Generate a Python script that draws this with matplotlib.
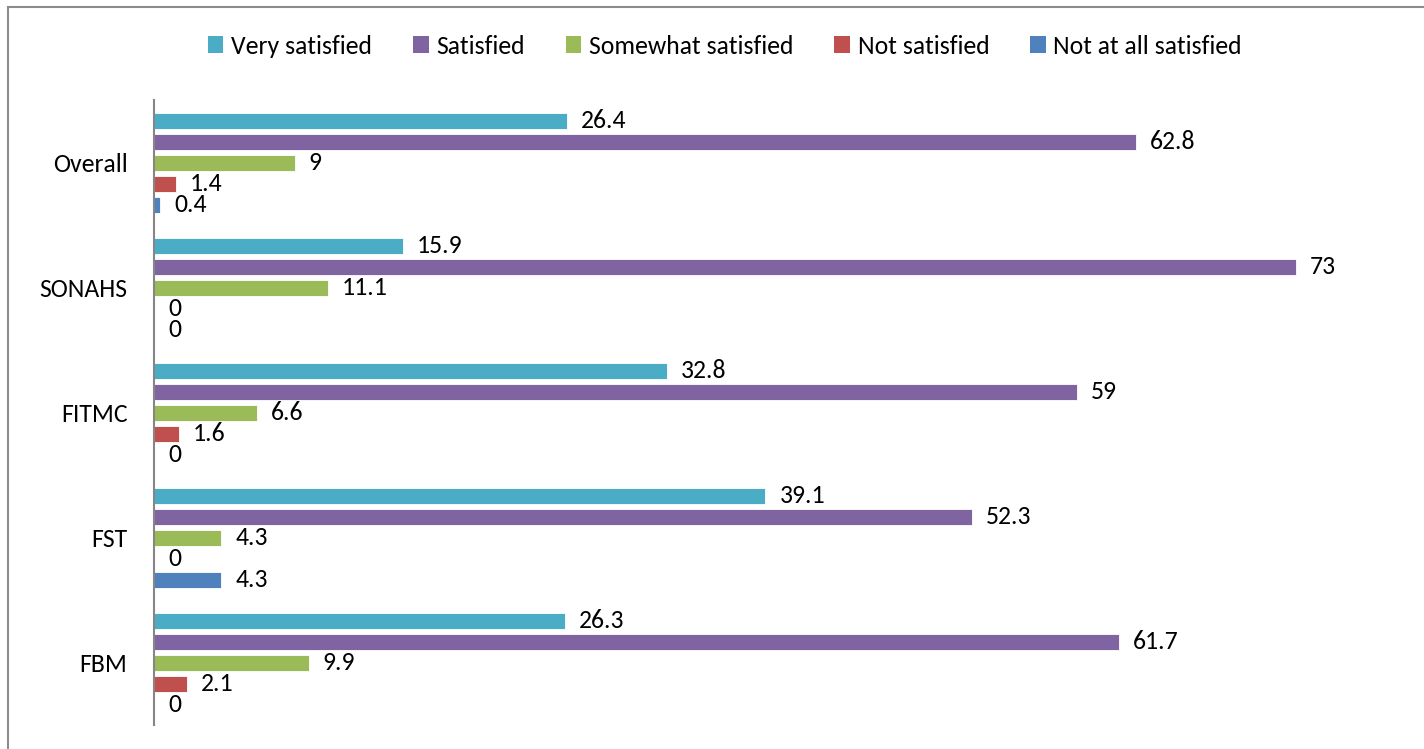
import numpy as np
import matplotlib.pyplot as plt
from matplotlib.patches import Patch, Rectangle

plt.rcParams['font.family'] = ['Carlito', 'Lato', 'DejaVu Sans']

groups = ['Overall', 'SONAHS', 'FITMC', 'FST', 'FBM']
series = ['Very satisfied', 'Satisfied', 'Somewhat satisfied',
          'Not satisfied', 'Not at all satisfied']
very_satisfied = [26.4, 15.9, 32.8, 39.1, 26.3]
satisfied = [62.8, 73, 59, 52.3, 61.7]
somewhat_satisfied = [9, 11.1, 6.6, 4.3, 9.9]
not_satisfied = [1.4, 0, 1.6, 0, 2.1]
not_at_all_satisfied = [0.4, 0, 0, 4.3, 0]
colors = ['#4BACC6', '#8064A2', '#9BBB59', '#C0504D', '#4F81BD']

values = [very_satisfied, satisfied, somewhat_satisfied,
          not_satisfied, not_at_all_satisfied]

fs = 18.5

fig = plt.figure(figsize=(14.24, 7.49), dpi=100)
ax = fig.add_axes([154/1424, 1-725/749, (1405-154)/1424, 625/749])

y = np.arange(len(groups))
pitch = 0.168
height = 0.128
for i, (vals, col) in enumerate(zip(values, colors)):
    pos = y + (i - 2) * pitch
    ax.barh(pos, vals, height=height, color=col,
            edgecolor='white', linewidth=0.6)
    for p, v in zip(pos, vals):
        ax.annotate(f'{v:g}', (v, p), xytext=(10, 0), textcoords='offset points',
                    ha='left', va='center', fontsize=fs)

ax.set_xlim(0, 80)
ax.set_ylim(len(groups) - 0.5, -0.5)
ax.set_yticks(y)
ax.set_yticklabels(groups, fontsize=fs)
ax.tick_params(axis='y', length=0, pad=19)
ax.set_xticks([])
for s in ['top', 'right', 'bottom']:
    ax.spines[s].set_visible(False)
ax.spines['left'].set_color('#868686')
ax.spines['left'].set_linewidth(1.5)

handles = [Patch(facecolor=c, label=s) for c, s in zip(colors, series)]
fig.legend(handles=handles, loc='center', bbox_to_anchor=(725/1424, 1-46/749),
           ncol=5, frameon=False, fontsize=fs, handlelength=0.6, handleheight=0.6,
           handletextpad=0.3, columnspacing=1.6)

# outer chart frame
fig.patches.append(Rectangle((8/1424, -0.1), 1.2, 1.1 - 7/749,
                             transform=fig.transFigure, fill=False,
                             edgecolor='#8c8c8c', linewidth=1.5))

fig.savefig('out.png', dpi=100)
